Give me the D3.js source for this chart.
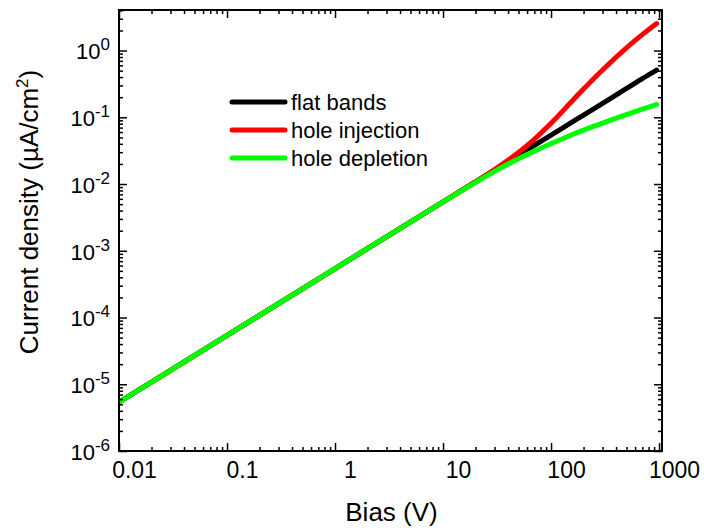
<html>
  <head>
    <meta charset="utf-8" />
    <script src="https://d3js.org/d3.v7.min.js"></script>
    <style>
      body { margin: 0; background: #fff; }
      text { font-family: "Liberation Sans", Arial, sans-serif; fill: #000; }
    </style>
  </head>
  <body>
    <div class="container"></div>
  </body>
</html>

<script>
  // bias (V) and current density (uA/cm^2)
  const bias = [0.01, 0.1, 1, 10, 20, 30, 50, 70, 100, 150, 200, 300, 500, 700, 950];
  const flatBands = [5.4e-6, 5.4e-5, 5.4e-4, 5.4e-3, 0.0108, 0.0162, 0.027, 0.038, 0.054, 0.081, 0.108, 0.162, 0.27, 0.38, 0.51];
  const holeInjection = [5.4e-6, 5.4e-5, 5.4e-4, 5.4e-3, 0.0108, 0.0165, 0.0297, 0.0468, 0.0813, 0.162, 0.265, 0.512, 1.1, 1.73, 2.54];
  const holeDepletion = [5.4e-6, 5.4e-5, 5.4e-4, 5.4e-3, 0.0106, 0.0155, 0.0239, 0.0311, 0.0402, 0.0534, 0.0643, 0.082, 0.1097, 0.132, 0.1556];

  const seriesNames = ["flat bands", "hole injection", "hole depletion"];
  const seriesColors = ["#000000", "#ff0000", "#00ff00"];
  const seriesValues = [flatBands, holeInjection, holeDepletion];

  const xMajor = [0.01, 0.1, 1, 10, 100, 1000];
  const xLabels = ["0.01", "0.1", "1", "10", "100", "1000"];
  const yExponents = [-6, -5, -4, -3, -2, -1, 0];

  const width = 704;
  const height = 528;
  const plot = { left: 119, right: 662, top: 10, bottom: 451 };

  const x = d3.scaleLog().domain([0.01, 1065]).range([plot.left, plot.right]);
  const y = d3.scaleLog().domain([1e-6, 4.05]).range([plot.bottom, plot.top]);

  function minors(scale) {
    const [a, b] = scale.domain();
    const out = [];
    for (let e = Math.floor(Math.log10(a)); e <= Math.ceil(Math.log10(b)); e++) {
      for (let m = 2; m <= 9; m++) {
        const v = m * Math.pow(10, e);
        if (v > a && v < b) out.push(v);
      }
    }
    return out;
  }

  const svg = d3
    .select(".container")
    .append("svg")
    .attr("width", width)
    .attr("height", height)
    .attr("viewBox", [0, 0, width, height]);

  svg.append("defs")
    .append("clipPath")
    .attr("id", "plot-clip")
    .append("rect")
    .attr("x", plot.left)
    .attr("y", plot.top)
    .attr("width", plot.right - plot.left)
    .attr("height", plot.bottom - plot.top);

  // curves
  const line = d3
    .line()
    .x((d) => x(d[0]))
    .y((d) => y(d[1]))
    .curve(d3.curveCatmullRom.alpha(0.5));

  svg
    .append("g")
    .attr("clip-path", "url(#plot-clip)")
    .selectAll("path")
    .data(seriesValues)
    .join("path")
    .attr("fill", "none")
    .attr("stroke", (d, i) => seriesColors[i])
    .attr("stroke-width", 5)
    .attr("stroke-linecap", "round")
    .attr("stroke-linejoin", "round")
    .attr("d", (vals) => line(bias.map((b, i) => [b, vals[i]])));

  // ticks (all pointing inward)
  function tickGroup(axis, translate) {
    const g = svg.append("g").attr("transform", translate).call(axis);
    g.select(".domain").remove();
    g.selectAll(".tick line").attr("stroke", "#000").attr("stroke-width", 1.5);
    return g;
  }

  const noLabel = () => "";
  const yMajor = yExponents.map((e) => Math.pow(10, e));

  tickGroup(d3.axisBottom(x).tickValues(minors(x)).tickSize(-4).tickFormat(noLabel), `translate(0,${plot.bottom})`);
  tickGroup(d3.axisTop(x).tickValues(minors(x)).tickSize(-4).tickFormat(noLabel), `translate(0,${plot.top})`);
  tickGroup(d3.axisTop(x).tickValues(xMajor).tickSize(-8).tickFormat(noLabel), `translate(0,${plot.top})`);
  tickGroup(d3.axisLeft(y).tickValues(minors(y)).tickSize(-4).tickFormat(noLabel), `translate(${plot.left},0)`);
  tickGroup(d3.axisRight(y).tickValues(minors(y)).tickSize(-4).tickFormat(noLabel), `translate(${plot.right},0)`);
  tickGroup(d3.axisRight(y).tickValues(yMajor).tickSize(-8).tickFormat(noLabel), `translate(${plot.right},0)`);

  const gx = tickGroup(
    d3.axisBottom(x).tickValues(xMajor).tickSize(-8).tickPadding(11).tickFormat((d, i) => xLabels[i]),
    `translate(0,${plot.bottom})`
  );
  gx.selectAll(".tick text")
    .attr("font-size", 23)
    .attr("font-family", "Liberation Sans, Arial, sans-serif")
    .attr("dx", 15);

  const gy = tickGroup(
    d3.axisLeft(y).tickValues(yMajor).tickSize(-8).tickPadding(9).tickFormat(noLabel),
    `translate(${plot.left},0)`
  );
  gy.selectAll(".tick text")
    .attr("font-size", 22)
    .attr("font-family", "Liberation Sans, Arial, sans-serif")
    .attr("dy", "0.38em")
    .each(function (d, i) {
      const t = d3.select(this);
      t.append("tspan").text("10");
      t.append("tspan").attr("font-size", 17).attr("dy", -9).text(String(yExponents[i]));
    });

  // frame
  svg
    .append("rect")
    .attr("x", plot.left)
    .attr("y", plot.top)
    .attr("width", plot.right - plot.left)
    .attr("height", plot.bottom - plot.top)
    .attr("fill", "none")
    .attr("stroke", "#000")
    .attr("stroke-width", 2);

  // axis titles
  svg
    .append("text")
    .attr("x", (plot.left + plot.right) / 2 + 1)
    .attr("y", 521)
    .attr("text-anchor", "middle")
    .attr("font-size", 26)
    .text("Bias (V)");

  const yTitle = svg
    .append("text")
    .attr("transform", "translate(38,212) rotate(-90)")
    .attr("text-anchor", "middle")
    .attr("font-size", 26);
  yTitle.append("tspan").text("Current density (\u00b5A/cm");
  yTitle.append("tspan").attr("font-size", 17).attr("dy", -10).text("2");
  yTitle.append("tspan").attr("dy", 10).text(")");

  // legend
  const legend = svg
    .append("g")
    .selectAll("g")
    .data(seriesNames)
    .join("g")
    .attr("transform", (d, i) => `translate(232,${102 + i * 28})`);

  legend
    .append("line")
    .attr("x1", 0)
    .attr("x2", 53)
    .attr("stroke", (d, i) => seriesColors[i])
    .attr("stroke-width", 5)
    .attr("stroke-linecap", "round");

  legend
    .append("text")
    .attr("x", 59)
    .attr("y", 7.5)
    .attr("font-size", 22)
    .text((d) => d);
</script>
